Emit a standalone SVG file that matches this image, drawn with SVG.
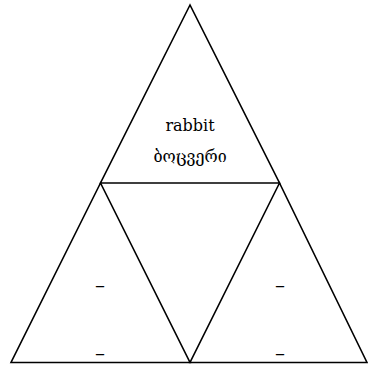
<svg xmlns="http://www.w3.org/2000/svg" width="368" height="365" viewBox="0 0 368 365">
<style>
.tri{fill:none;stroke:#000;stroke-width:1.6;stroke-linejoin:miter}
.t{font-family:"DejaVu Serif","Noto Sans","DejaVu Sans",serif;font-size:16px;fill:#000;text-anchor:middle}
.d{font-family:"DejaVu Serif",serif;font-size:20px;fill:#000;text-anchor:middle}
</style>
<rect width="368" height="365" fill="#fff"/>
<g id="top">
<polygon class="tri" points="190,5 100.5,183 279.5,183"/>
<text class="t" x="190" y="130.5">rabbit</text>
<text class="t" x="190" y="162">ბოცვერი</text>
</g>
<g id="left">
<polygon class="tri" points="100.5,183 11,362.5 190,362.5"/>
<text class="d" x="100" y="291.5">–</text>
<text class="d" x="100" y="360">–</text>
</g>
<g id="right">
<polygon class="tri" points="279.5,183 190,362.5 367,362.5"/>
<text class="d" x="280" y="291.5">–</text>
<text class="d" x="280" y="360">–</text>
</g>
<g id="connectors"></g>
</svg>
